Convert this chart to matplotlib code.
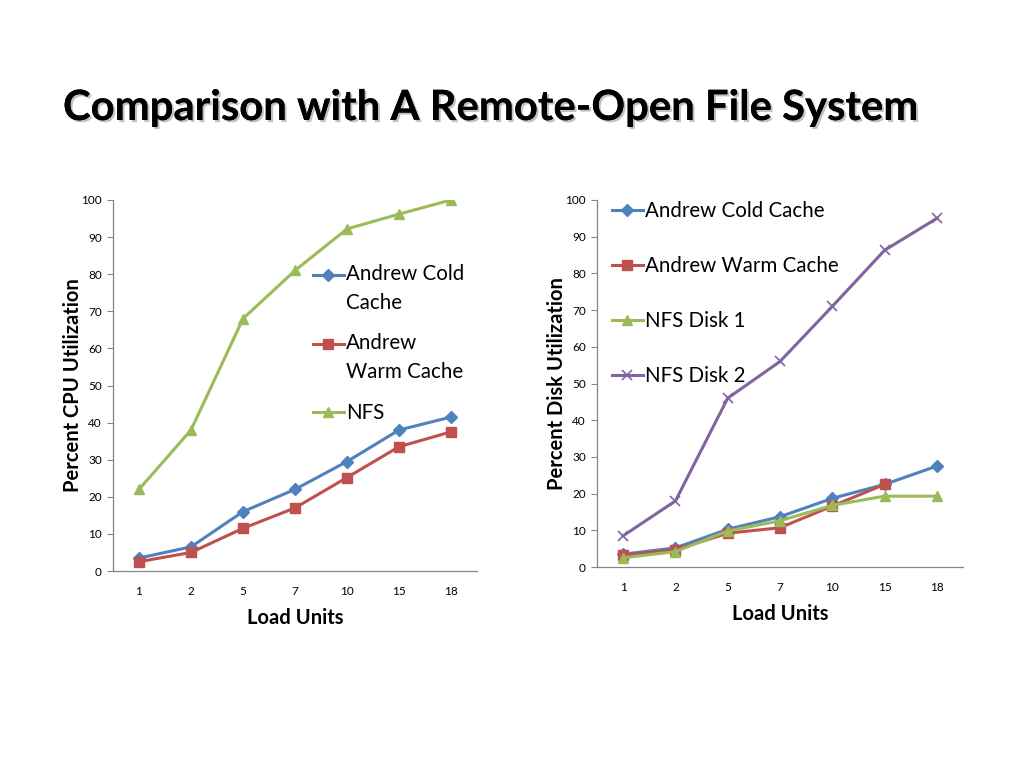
import matplotlib
matplotlib.use("Agg")
import matplotlib.pyplot as plt
import matplotlib.patheffects as pe
from matplotlib.legend_handler import HandlerLine2D

plt.rcParams['font.family'] = ['Lato', 'DejaVu Sans']

categories = ["1", "2", "5", "7", "10", "15", "18"]

cpu_cold = [3.5, 6.5, 16.0, 22.0, 29.5, 38.0, 41.5]
cpu_warm = [2.5, 5.0, 11.5, 17.0, 25.2, 33.5, 37.5]
cpu_nfs = [22.0, 38.0, 68.0, 81.0, 92.2, 96.2, 100.0]

disk_cold = [3.5, 5.2, 10.3, 13.7, 18.7, 22.5, 27.5]
disk_warm = [3.2, 4.7, 9.2, 10.7, 16.6, 22.5]
disk_nfs1 = [2.5, 4.2, 9.8, 12.6, 16.8, 19.3, 19.3]
disk_nfs2 = [8.5, 18.0, 46.0, 56.0, 71.0, 86.3, 95.0]

yticks = list(range(0, 101, 10))

BLUE = "#4F81BD"
RED = "#C0504D"
GREEN = "#9BBB59"
PURPLE = "#8064A2"


class FirstLineHandler(HandlerLine2D):
    """Places the legend handle level with the first line of a two-line label."""
    def __init__(self, shift, **kw):
        super().__init__(**kw)
        self.shift = shift

    def create_artists(self, legend, orig_handle, xdescent, ydescent,
                       width, height, fontsize, trans):
        return super().create_artists(legend, orig_handle, xdescent, ydescent,
                                      width, height + 2 * self.shift,
                                      fontsize, trans)


fig = plt.figure(figsize=(10.24, 7.68), dpi=100)
fig.patch.set_facecolor("white")

fig.text(63/1024, 1-108/768, "Comparison with A Remote-Open File System",
         fontsize=30.1, fontweight="bold", ha="left", va="center",
         path_effects=[pe.withSimplePatchShadow(offset=(1.5, -1.5), shadow_rgbFace="#999999", alpha=0.6), pe.Normal()])


def style_axes(ax, ylabel):
    ax.set_xlim(-0.5, len(categories) - 0.5)
    ax.set_ylim(0, 100)
    ax.set_yticks(yticks)
    ax.set_xticks(range(len(categories)))
    ax.set_xticklabels(categories)
    for s in ["top", "right"]:
        ax.spines[s].set_visible(False)
    for s in ["left", "bottom"]:
        ax.spines[s].set_color("#868686")
        ax.spines[s].set_linewidth(0.9)
    ax.tick_params(axis="y", length=4, color="#868686", labelsize=8.5, pad=4)
    ax.tick_params(axis="x", length=0, labelsize=8.5, pad=11)
    ax.set_xlabel("Load Units", fontsize=14.5, fontweight="bold", labelpad=7.5)
    ax.set_ylabel(ylabel, fontsize=14.5, fontweight="bold", labelpad=-1)


x = list(range(len(categories)))
lw = 2.2

ax1 = fig.add_axes([113/1024, 1-571/768, 364/1024, 371/768])
l_cold, = ax1.plot(x, cpu_cold, color=BLUE, lw=lw, marker="D", ms=6, label="Andrew Cold\nCache")
l_warm, = ax1.plot(x, cpu_warm, color=RED, lw=lw, marker="s", ms=7, label="Andrew\nWarm Cache")
l_nfs, = ax1.plot(x, cpu_nfs, color=GREEN, lw=lw, marker="^", ms=7, label="NFS")
style_axes(ax1, "Percent CPU Utilization")
leg1 = ax1.legend(loc="upper left", bbox_to_anchor=(313/1024, 1-264/768),
                  bbox_transform=fig.transFigure, frameon=False, fontsize=14.8,
                  handlelength=1.5, handletextpad=0.12, labelspacing=1.0,
                  borderpad=0, borderaxespad=0,
                  handler_map={l_cold: FirstLineHandler(10.5),
                               l_warm: FirstLineHandler(10.5)})
for t in leg1.get_texts():
    t.set_linespacing(1.55)

ax2 = fig.add_axes([597/1024, 1-567/768, 366/1024, 367/768])
ax2.plot(x, disk_cold, color=BLUE, lw=lw, marker="D", ms=6, label="Andrew Cold Cache")
ax2.plot(x[:len(disk_warm)], disk_warm, color=RED, lw=lw, marker="s", ms=7, label="Andrew Warm Cache")
ax2.plot(x, disk_nfs1, color=GREEN, lw=lw, marker="^", ms=7, label="NFS Disk 1")
ax2.plot(x, disk_nfs2, color=PURPLE, lw=lw, marker="x", ms=7, mew=1.2, label="NFS Disk 2")
style_axes(ax2, "Percent Disk Utilization")
leg2 = ax2.legend(loc="upper left", bbox_to_anchor=(612/1024, 1-201/768),
                  bbox_transform=fig.transFigure, frameon=False, fontsize=14.8,
                  handlelength=1.5, handletextpad=0.12, labelspacing=1.7,
                  borderpad=0, borderaxespad=0)

fig.savefig("out.png", dpi=100)
